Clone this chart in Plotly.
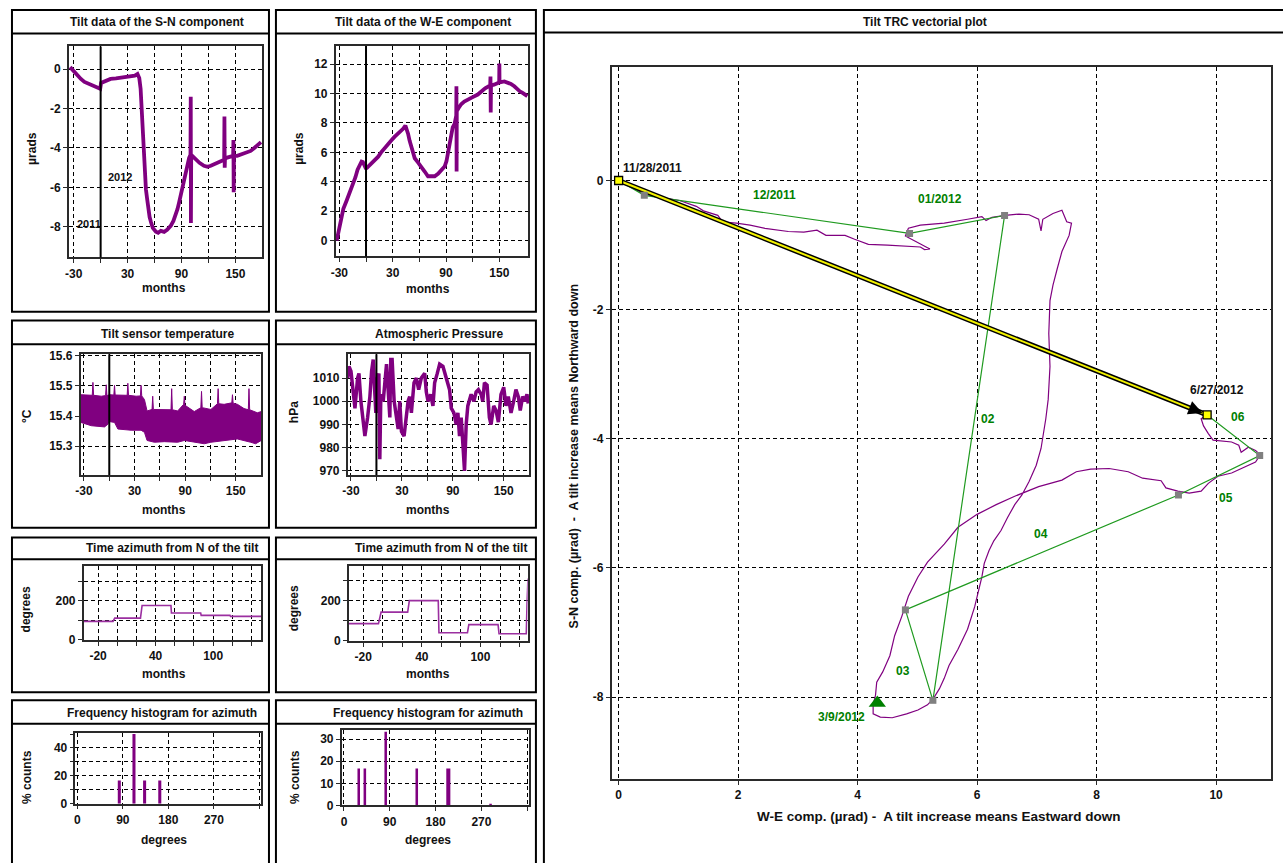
import plotly.graph_objects as go

W, H = 1283, 863
FONT = "Liberation Sans, Arial, sans-serif"
PURPLE = "#800080"
STEP_PURPLE = "#9b2fa0"
GREEN = "#008000"
GRID_DASH = "4px,3px"

# ---------------- data ----------------
# S-N tilt component (µrad) against day relative to 1 Jan 2012
sn_day = [-34, -30, -27, -22, -18, -13, -9, -5, -2, -0.5,
          0.5, 5, 11, 17, 23, 29, 34, 38, 41, 43,
          44.5, 45.5, 46.7, 47.6, 48.5, 49.5, 50.4, 51.8, 53, 54.5,
          56, 58, 61.5, 64, 67, 70.7, 74, 78, 81, 83.7,
          85.5, 87.4, 90, 93, 95, 96.7, 98.5, 100, 100.3, 100.5,
          100.8, 102, 104, 106, 110, 115, 119, 122.6, 127, 133,
          137.5, 137.8, 138.1, 138.4, 140, 144, 147.5, 147.8, 148.1, 148.4,
          152, 157, 162, 167, 171, 175, 178.5]
sn_val = [0.1, -0.1, -0.3, -0.5, -0.65, -0.75, -0.88, -0.95, -1.0, -1.0,
          -0.7, -0.6, -0.5, -0.47, -0.42, -0.4, -0.37, -0.33, -0.25, -0.45,
          -1.0, -2.0, -3.4, -4.3, -5.1, -5.7, -6.1, -6.6, -7.1, -7.5,
          -7.75, -8.05, -8.25, -8.3, -8.2, -8.25, -8.15, -7.95, -7.7, -7.4,
          -7.1, -6.75, -6.2, -5.6, -5.1, -4.75, -4.5, -4.35, -1.4, -7.8,
          -4.35, -4.4, -4.5, -4.6, -4.75, -4.9, -4.95, -4.9, -4.8, -4.67,
          -4.6, -2.4, -5.0, -4.55, -4.5, -4.45, -4.4, -3.6, -6.25, -4.4,
          -4.4, -4.3, -4.2, -4.15, -4.0, -3.85, -3.7]

# W-E tilt component (µrad)
we_day = [-33, -31, -29.3, -27, -25.5, -22, -19.9, -17, -14.3, -12,
          -9.5, -7, -5, -3.5, -2.4, -0.5, 1, 2.5, 6, 10,
          13.7, 17, 21.2, 25, 28.6, 32, 36.1, 39, 41.7, 44.3,
          46, 47.3, 49, 51, 53, 54.8, 58, 62.2, 66, 69.7,
          73, 77.2, 81, 84.6, 88.4, 90.5, 92.1, 94, 95.8, 97.5,
          99.6, 101.5, 101.7, 101.9, 102.1, 104, 107, 110.5, 114.5, 120,
          125.7, 130, 134, 139.7, 140, 140.3, 140.6, 144, 148.1, 149.8,
          150, 150.2, 155.6, 160, 163, 166.8, 170, 173, 176.1, 179,
          181.5]
we_val = [0, 0.6, 1.27, 1.8, 2.16, 2.7, 3.04, 3.5, 3.82, 4.3,
          4.82, 5.2, 5.38, 5.35, 5.16, 4.95, 4.95, 5.04, 5.25, 5.5,
          5.71, 6.0, 6.27, 6.5, 6.82, 7.05, 7.27, 7.4, 7.6, 7.82,
          7.55, 7.27, 6.8, 6.38, 5.95, 5.6, 5.35, 5.04, 4.7, 4.38,
          4.4, 4.38, 4.55, 4.82, 5.04, 5.4, 5.93, 6.7, 7.49, 7.7,
          7.93, 8.5, 10.49, 4.71, 8.8, 9.0, 9.27, 9.45, 9.6, 9.75,
          9.93, 10.15, 10.35, 10.55, 11.16, 8.71, 10.55, 10.6, 10.71, 10.75,
          12.04, 10.75, 10.82, 10.75, 10.65, 10.49, 10.3, 10.15, 10.04, 9.9,
          9.82]

# Sensor temperature (°C): upper and lower envelope of the daily swing
temp_day_hi = [-33.9, -20.2, -19.4, -18.6, -9.5, -4.4, -3.6, -2.8, 0.3, 5.4,
               6.2, 7.0, 21.2, 22.0, 22.8, 31.8, 36.9, 37.7, 38.5, 41.7,
               44.8, 49.6, 50.7, 51.5, 52.3, 73.2, 74.0, 74.8, 81.1, 88.2,
               89.0, 89.8, 100.8, 108.6, 109.4, 110.2, 120.5, 128.3, 129.1, 129.9,
               136.2, 145.3, 146.1, 146.9, 152.0, 159.8, 164.9, 165.7, 166.5, 175.6,
               180.3]
temp_hi = [15.471, 15.469, 15.512, 15.469, 15.466, 15.468, 15.504, 15.468, 15.471, 15.470,
           15.502, 15.470, 15.469, 15.509, 15.469, 15.466, 15.467, 15.502, 15.467, 15.455,
           15.417, 15.422, 15.422, 15.466, 15.422, 15.421, 15.491, 15.421, 15.417, 15.439,
           15.466, 15.436, 15.415, 15.428, 15.482, 15.428, 15.422, 15.441, 15.491, 15.441,
           15.439, 15.444, 15.471, 15.443, 15.439, 15.425, 15.421, 15.491, 15.421, 15.411,
           15.415]
temp_day_lo = [-33.9, -25.3, -21.3, -5.6, -1.6, -0.5, 6.2, 10.2, 25.9, 37.7,
               41.7, 44.8, 53.5, 65.3, 81.1, 89.0, 96.8, 112.6, 120.5, 136.2,
               152.0, 167.7, 173.6, 180.3]
temp_lo = [15.379, 15.373, 15.368, 15.364, 15.373, 15.382, 15.379, 15.357, 15.353, 15.353,
           15.346, 15.319, 15.313, 15.315, 15.313, 15.319, 15.316, 15.308, 15.313, 15.319,
           15.324, 15.313, 15.308, 15.319]

# Atmospheric pressure (hPa)
pres_day = [-33.9, -32.3, -30.0, -27.3, -25.3, -22.2, -20.6, -18.3, -15.5, -13.6,
            -10.4, -7.7, -5.7, -3.8, -1.8, -0.7, 1.3, 2.9, 4.0, 5.2,
            8.0, 9.9, 11.9, 13.8, 15.8, 16.9, 18.5, 20.9, 23.6, 25.6,
            27.5, 29.5, 32.6, 35.3, 37.3, 39.2, 41.2, 44.3, 47.1, 49.8,
            52.9, 56.9, 58.8, 60.8, 63.9, 66.6, 68.6, 71.7, 74.5, 78.4,
            82.3, 86.2, 88.2, 91.3, 94.0, 96.0, 97.9, 99.9, 101.8, 103.8,
            105.8, 107.7, 111.6, 114.8, 117.5, 120.2, 123.4, 125.3, 127.3, 130.4,
            133.1, 135.1, 138.2, 141.0, 143.7, 146.8, 150.0, 152.7, 155.4, 158.6,
            161.7, 164.4, 167.2, 169.5, 172.3, 175.0, 177.4, 178.9]
pres_val = [1010, 1015, 1013, 1003, 997, 1010, 1012, 1000, 990, 985,
            993, 1002, 1013, 1018, 1003, 995, 1010, 1012, 975, 1003,
            1000, 1010, 1016, 1005, 993, 1018, 1018, 1000, 993, 988,
            1000, 987, 985, 995, 1000, 1002, 995, 1008, 1010, 1005,
            1010, 1012, 1004, 1000, 1003, 998, 1008, 1012, 1016, 1015,
            1010, 1005, 997, 995, 990, 995, 985, 993, 982, 970,
            990, 998, 1003, 1000, 1004, 1005, 1003, 1000, 1008, 1007,
            993, 990, 998, 996, 991, 1003, 1006, 998, 1002, 995,
            1000, 1005, 1002, 996, 1002, 1000, 1003, 999]

# Monthly azimuth of the tilt (degrees from N)
az1_t = [-35, -4.4, -2.6, 24.2, 25.9, 56.0, 56.5, 87.0, 87.5, 117.6, 118.1, 150]
az1_deg = [93, 93, 110, 110, 175, 175, 136, 136, 124, 124, 119, 119]
az2_t = [-35, -4.4, -1.7, 25.5, 27.2, 56.8, 57.5, 86.7, 88.1, 118.0, 119.0, 146.9, 147.6, 148.6]
az2_deg = [85, 85, 142, 142, 199, 199, 40, 40, 80, 80, 35, 35, 175, 308]

# Azimuth frequency histograms (% counts)
hist1_deg = [83, 112, 133, 163]
hist1_pct = [16.7, 50.0, 16.7, 16.7]
hist2_deg = [29, 41, 82, 143, 205, 288]
hist2_pct = [16.7, 16.7, 33.3, 16.7, 16.7, 0.8]
hist2_width = [5, 5, 5, 5, 8, 5]

# Tilt vector path: (W-E, S-N) in µrad, from 11/28/2011 to 6/27/2012
tilt_path = [
    (0.0, 0.0), (0.25, -0.12), (0.43, -0.21), (0.75, -0.27), (1.02, -0.31), (1.30, -0.40),
    (1.42, -0.47), (1.66, -0.54), (1.74, -0.64), (1.97, -0.66), (2.20, -0.69), (2.45, -0.74),
    (2.84, -0.79), (3.10, -0.80), (3.32, -0.77), (3.47, -0.85), (3.79, -0.85), (3.95, -0.91),
    (4.18, -0.99), (4.50, -1.00), (4.74, -1.01), (5.05, -1.03), (5.12, -1.07), (5.21, -1.06),
    (4.80, -0.86), (4.85, -0.74), (5.05, -0.69), (5.45, -0.66), (5.84, -0.60), (6.08, -0.56),
    (6.15, -0.62), (6.25, -0.57), (6.47, -0.54), (6.70, -0.52), (6.87, -0.53), (7.03, -0.60),
    (7.07, -0.78), (7.10, -0.60), (7.27, -0.51), (7.42, -0.46), (7.50, -0.64), (7.58, -0.66),
    (7.54, -0.85), (7.42, -1.10), (7.34, -1.37), (7.27, -1.62), (7.22, -1.86), (7.20, -2.37),
    (7.22, -2.88), (7.19, -3.39), (7.15, -3.69), (7.11, -3.90), (7.07, -4.15), (6.99, -4.41),
    (6.87, -4.66), (6.75, -4.87), (6.63, -5.02), (6.51, -5.22), (6.40, -5.42), (6.28, -5.58),
    (6.20, -5.73), (6.12, -5.93), (6.08, -6.14), (5.96, -6.60), (5.84, -6.95), (5.68, -7.26),
    (5.53, -7.51), (5.45, -7.71), (5.37, -7.87), (5.27, -8.02), (5.17, -8.12), (5.01, -8.20),
    (4.82, -8.26), (4.58, -8.32), (4.38, -8.31), (4.26, -8.26), (4.26, -8.12), (4.30, -7.97),
    (4.32, -7.77), (4.42, -7.61), (4.54, -7.36), (4.62, -7.05), (4.74, -6.75), (4.85, -6.44),
    (5.01, -6.14), (5.17, -5.91), (5.45, -5.63), (5.68, -5.37), (6.00, -5.17), (6.32, -5.02),
    (6.63, -4.89), (7.03, -4.74), (7.42, -4.64), (7.66, -4.51), (7.90, -4.47), (8.21, -4.46),
    (8.53, -4.51), (8.77, -4.61), (9.08, -4.65), (9.16, -4.76), (9.36, -4.81), (9.55, -4.84),
    (9.75, -4.81), (9.87, -4.69), (10.03, -4.58), (10.26, -4.53), (10.50, -4.43), (10.66, -4.36),
    (10.74, -4.25), (10.66, -4.18), (10.54, -4.13), (10.42, -4.21), (10.38, -4.10), (10.26, -4.05),
    (9.95, -4.02), (9.87, -3.92), (9.79, -3.80), (9.75, -3.69), (9.83, -3.64),
]

# Month-end tilt positions (W-E, S-N) and month labels of each segment
month_we = [0.0, 0.43, 4.87, 6.46, 5.26, 4.80, 9.37, 10.73, 9.85]
month_sn = [0.0, -0.23, -0.82, -0.54, -8.05, -6.65, -4.87, -4.26, -3.63]
segment_labels = ["", "12/2011", "01/2012", "02", "03", "04", "05", "06"]
segment_label_shift = [(0, 0), (-2, 19), (-17, 25), (19, 39), (-16, -16), (-1, 18), (7, -23), (5, 18)]

vector_dates = ["11/28/2011", "6/27/2012"]
event_date = "3/9/2012"
event_we, event_sn = 4.33, -8.09

year_boundary_day = 0

# ---------------- helpers ----------------
def pxx(x):
    return x / W


def pxy(y):
    return 1 - y / H


def axis(dom, rng, tickvals, ticktext, anchor):
    return dict(
        domain=dom, range=rng, tickmode="array", tickvals=tickvals, ticktext=ticktext,
        anchor=anchor, showline=True, mirror=True, linecolor="#2a2a2a", linewidth=1.5,
        ticks="outside", ticklen=4, tickwidth=1, tickcolor="#2a2a2a",
        showgrid=True, gridcolor="#000000", gridwidth=1, griddash=GRID_DASH,
        zeroline=False, fixedrange=True,
        tickfont=dict(family=FONT, size=12, color="#111111", weight="bold"),
    )


def text(t, x, y, size=12, angle=0, color="#111111"):
    return dict(text=t, x=pxx(x), y=pxy(y), xref="paper", yref="paper", showarrow=False,
                textangle=angle, xanchor="center", yanchor="middle",
                font=dict(family=FONT, size=size, color=color, weight="bold"))


fig = go.Figure()

# Tilt S-N and W-E time series
fig.add_trace(go.Scatter(x=sn_day, y=sn_val, mode="lines", line=dict(color=PURPLE, width=3.8),
                         xaxis="x", yaxis="y"))
fig.add_trace(go.Scatter(x=we_day, y=we_val, mode="lines", line=dict(color=PURPLE, width=3.8),
                         xaxis="x2", yaxis="y2"))

# Temperature band
fig.add_trace(go.Scatter(x=temp_day_lo, y=temp_lo, mode="lines", line=dict(color=PURPLE, width=1),
                         xaxis="x3", yaxis="y3"))
fig.add_trace(go.Scatter(x=temp_day_hi, y=temp_hi, mode="lines", line=dict(color=PURPLE, width=1),
                         fill="tonexty", fillcolor=PURPLE, xaxis="x3", yaxis="y3"))

# Pressure
fig.add_trace(go.Scatter(x=pres_day, y=pres_val, mode="lines", line=dict(color=PURPLE, width=3.5),
                         xaxis="x4", yaxis="y4"))

# Azimuth time series
fig.add_trace(go.Scatter(x=az1_t, y=az1_deg, mode="lines", line=dict(color=STEP_PURPLE, width=1.6),
                         xaxis="x5", yaxis="y5"))
fig.add_trace(go.Scatter(x=az2_t, y=az2_deg, mode="lines", line=dict(color=STEP_PURPLE, width=1.6),
                         xaxis="x6", yaxis="y6"))

# Azimuth histograms
fig.add_trace(go.Bar(x=hist1_deg, y=hist1_pct, width=6, marker=dict(color=PURPLE, line=dict(width=0)),
                     xaxis="x7", yaxis="y7"))
fig.add_trace(go.Bar(x=hist2_deg, y=hist2_pct, width=hist2_width, marker=dict(color=PURPLE, line=dict(width=0)),
                     xaxis="x8", yaxis="y8"))

# Vector plot: tilt path
fig.add_trace(go.Scatter(x=[p[0] for p in tilt_path], y=[p[1] for p in tilt_path], mode="lines",
                         line=dict(color=PURPLE, width=1.2), xaxis="x9", yaxis="y9"))
# monthly polyline
fig.add_trace(go.Scatter(x=month_we, y=month_sn, mode="lines", line=dict(color="#1f9a1f", width=1.2),
                         xaxis="x9", yaxis="y9"))
# overall tilt vector (black outline, yellow core)
vec_we = [month_we[0], month_we[-1]]
vec_sn = [month_sn[0], month_sn[-1]]
fig.add_trace(go.Scatter(x=vec_we, y=vec_sn, mode="lines", line=dict(color="#000000", width=5),
                         xaxis="x9", yaxis="y9"))
fig.add_trace(go.Scatter(x=vec_we, y=vec_sn, mode="lines", line=dict(color="#f2f200", width=2),
                         xaxis="x9", yaxis="y9"))
# month-end markers
fig.add_trace(go.Scatter(x=month_we[1:-1], y=month_sn[1:-1], mode="markers",
                         marker=dict(symbol="square", size=7, color="#808080"),
                         xaxis="x9", yaxis="y9"))
fig.add_trace(go.Scatter(x=vec_we, y=vec_sn, mode="markers",
                         marker=dict(symbol="square", size=8, color="#ffff00",
                                     line=dict(color="#000000", width=1.3)),
                         xaxis="x9", yaxis="y9"))
fig.add_trace(go.Scatter(x=[event_we], y=[event_sn], mode="markers",
                         marker=dict(symbol="triangle-up", size=15, color=GREEN),
                         xaxis="x9", yaxis="y9"))

# ---------------- axes ----------------
days30 = [-30, 0, 30, 60, 90, 120, 150]
days30_txt = ["-30", "", "30", "", "90", "", "150"]
days20 = [-20, 0, 20, 40, 60, 80, 100, 120, 140]
days20_txt = ["-20", "", "", "40", "", "", "100", "", ""]
deg_ticks = [0, 90, 180, 270, 360]
deg_txt = ["0", "90", "180", "270", ""]

layout_axes = {
    "xaxis": axis([pxx(64), pxx(258)], [-35.5, 179.6], days30, days30_txt, "y"),
    "yaxis": axis([pxy(256), pxy(42)], [-9.55, 1.15], [-8, -6, -4, -2, 0],
                  ["-8", "-6", "-4", "-2", "0"], "x"),
    "xaxis2": axis([pxx(332), pxx(525.3)], [-34.1, 182.5], days30, days30_txt, "y2"),
    "yaxis2": axis([pxy(255), pxy(41.7)], [-1.07, 13.22], [0, 2, 4, 6, 8, 10, 12],
                   ["0", "2", "4", "6", "8", "10", "12"], "x2"),
    "xaxis3": axis([pxx(76), pxx(257.3)], [-33.9, 180.3], days30, days30_txt, "y3"),
    "yaxis3": axis([pxy(476.7), pxy(354.3)], [15.204, 15.605], [15.3, 15.4, 15.5, 15.6],
                   ["15.3", "15.4", "15.5", "15.6"], "x3"),
    "xaxis4": axis([pxx(344), pxx(526.3)], [-33.9, 180.1], days30, days30_txt, "y4"),
    "yaxis4": axis([pxy(476.7), pxy(354.3)], [968.2, 1020.2], [970, 980, 990, 1000, 1010],
                   ["970", "980", "990", "1000", "1010"], "x4"),
    "xaxis5": axis([pxx(79), pxx(257.3)], [-35, 150.2], days20, days20_txt, "y5"),
    "yaxis5": axis([pxy(644), pxy(569)], [-3, 378], [0, 100, 200, 300], ["0", "", "200", ""], "x5"),
    "xaxis6": axis([pxx(345.3), pxx(524.7)], [-34.6, 148.3], days20, days20_txt, "y6"),
    "yaxis6": axis([pxy(645), pxy(569)], [-1, 370], [0, 100, 200, 300], ["0", "", "200", ""], "x6"),
    "xaxis7": axis([pxx(70.7), pxx(257.3)], [-3.7, 363.6], deg_ticks, deg_txt, "y7"),
    "yaxis7": axis([pxy(810), pxy(738.3)], [0, 50.7], [0, 10, 20, 30, 40, 50],
                   ["0", "", "20", "", "40", ""], "x7"),
    "xaxis8": axis([pxx(338), pxx(526.3)], [-4.5, 364], deg_ticks, deg_txt, "y8"),
    "yaxis8": axis([pxy(811.7), pxy(735)], [0, 34.2], [0, 10, 20, 30], ["0", "10", "20", "30"], "x8"),
    "xaxis9": axis([pxx(609), pxx(1271)], [-0.117, 10.92], [0, 2, 4, 6, 8, 10],
                   ["0", "2", "4", "6", "8", "10"], "y9"),
    "yaxis9": axis([pxy(785), pxy(63)], [-9.27, 1.756], [-8, -6, -4, -2, 0],
                   ["-8", "-6", "-4", "-2", "0"], "x9"),
}

# ---------------- panel frames ----------------
shapes = []
panels = [  # (left, top, right, bottom, title-rule y)
    (7, 5, 265, 311, 29), (272, 5, 533, 311, 29),
    (7, 320, 265, 530, 344), (272, 320, 533, 530, 344),
    (7, 540, 265, 697, 562), (272, 540, 533, 697, 562),
    (7, 705, 265, 880, 729), (272, 705, 533, 880, 729),
    (541, 5, 1295, 880, 28),
]
for l, t, r, b, rule in panels:
    shapes.append(dict(type="rect", xref="paper", yref="paper", x0=pxx(l), x1=pxx(r),
                       y0=pxy(b), y1=pxy(t), line=dict(color="#000000", width=2)))
    shapes.append(dict(type="line", xref="paper", yref="paper", x0=pxx(l), x1=pxx(r),
                       y0=pxy(rule), y1=pxy(rule), line=dict(color="#000000", width=2)))

# year boundary on the time series
for ax_id in ["", "2", "3", "4"]:
    shapes.append(dict(type="line", xref="x" + ax_id, yref=("y" + ax_id) + " domain",
                       x0=year_boundary_day, x1=year_boundary_day, y0=0, y1=1,
                       line=dict(color="#000000", width=2)))

# ---------------- texts ----------------
ann = [
    text("Tilt data of the S-N component", 153, 17),
    text("Tilt data of the W-E component", 420, 17),
    text("Tilt sensor temperature", 163, 334),
    text("Atmospheric Pressure", 436, 334),
    text("Time azimuth from N of the tilt", 168, 551),
    text("Time azimuth from N of the tilt", 438, 551),
    text("Frequency histogram for azimuth", 158, 718),
    text("Frequency histogram for azimuth", 425, 718),
    text("Tilt TRC vectorial plot", 924, 17),
    text("\u00b5rads", 27, 145, angle=-90), text("months", 160, 287),
    text("\u00b5rads", 295, 145, angle=-90), text("months", 425, 288),
    text("\u00b0C", 22, 417, angle=-90), text("months", 160, 512),
    text("hPa", 290, 413, angle=-90), text("months", 425, 512),
    text("degrees", 22, 613, angle=-90), text("months", 160, 678),
    text("degrees", 291, 612, angle=-90), text("months", 425, 678),
    text("% counts", 22, 783, angle=-90), text("degrees", 160, 847),
    text("% counts", 291, 783, angle=-90), text("degrees", 425, 847),
    text("W-E comp. (\u00b5rad) -  A tilt increase means Eastward down", 938, 823, size=13.5),
    text("S-N comp. (\u00b5rad)  -  A tilt increase means Northward down", 571, 457, size=12.5, angle=-90),
]

# year tags on the S-N series
ann.append(dict(text="2012", x=21, y=-5.45, xref="x", yref="y", showarrow=False,
                font=dict(family=FONT, size=11, color="#111111", weight="bold")))
ann.append(dict(text="2011", x=-13.4, y=-7.85, xref="x", yref="y", showarrow=False,
                font=dict(family=FONT, size=11, color="#111111", weight="bold")))

# month labels on the polyline segments
for i in range(1, len(segment_labels)):
    mx = (month_we[i] + month_we[i + 1]) / 2
    my = (month_sn[i] + month_sn[i + 1]) / 2
    dx, dy = segment_label_shift[i]
    ann.append(dict(text=segment_labels[i], x=mx, y=my, xref="x9", yref="y9", showarrow=False,
                    xshift=dx, yshift=dy,
                    font=dict(family=FONT, size=12, color=GREEN, weight="bold")))

# start / end dates of the vector and the event marker
ann.append(dict(text=vector_dates[0], x=vec_we[0], y=vec_sn[0], xref="x9", yref="y9", showarrow=False,
                xshift=34, yshift=13, font=dict(family=FONT, size=12, color="#111111", weight="bold")))
ann.append(dict(text=vector_dates[1], x=vec_we[1], y=vec_sn[1], xref="x9", yref="y9", showarrow=False,
                xshift=10, yshift=25, font=dict(family=FONT, size=12, color="#111111", weight="bold")))
ann.append(dict(text=event_date, x=event_we, y=event_sn, xref="x9", yref="y9", showarrow=False,
                xshift=-36, yshift=-14, font=dict(family=FONT, size=12, color=GREEN, weight="bold")))
# arrow head of the tilt vector
ann.append(dict(text="", x=vec_we[1], y=vec_sn[1], xref="x9", yref="y9", showarrow=True,
                ax=-13, ay=-5.2, arrowhead=2, arrowsize=1.4, arrowwidth=2, arrowcolor="#000000",
                standoff=5))

fig.update_layout(
    width=W, height=H, margin=dict(l=0, r=0, t=0, b=0),
    paper_bgcolor="#ffffff", plot_bgcolor="#ffffff", showlegend=False,
    shapes=shapes, annotations=ann, **layout_axes,
)

fig.write_html("out.html")
